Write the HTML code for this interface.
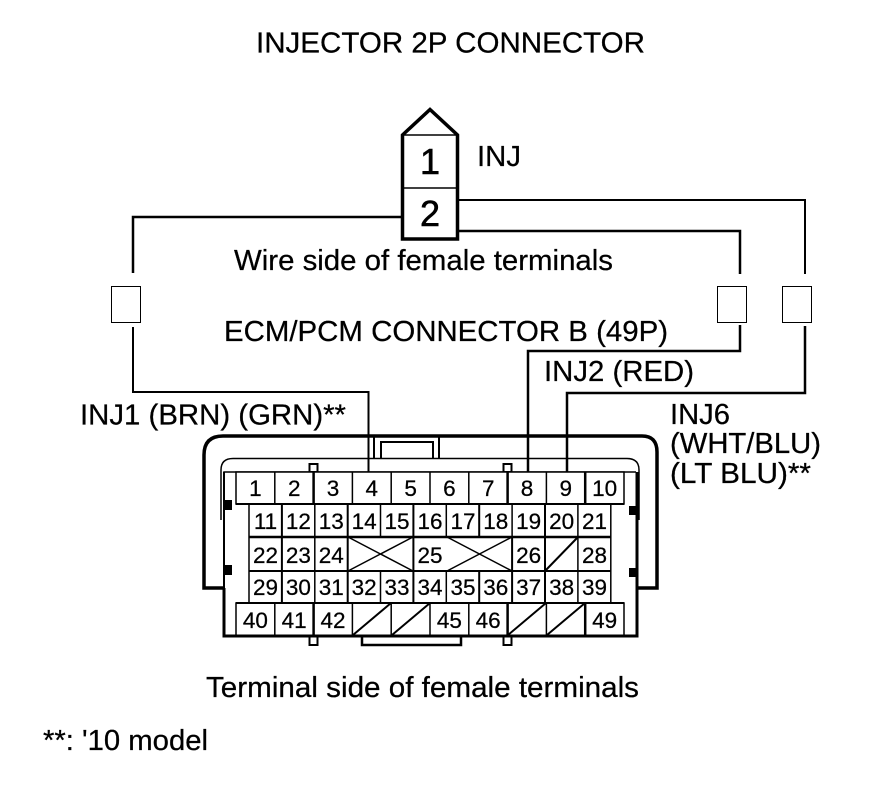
<!DOCTYPE html>
<html>
<head>
<meta charset="utf-8">
<style>
html,body{margin:0;padding:0;background:#fff;}
svg{display:block;}
text{font-family:"Liberation Sans",sans-serif;fill:#000;stroke:#000;stroke-width:0.25px;}
.t{font-size:28.500px;}
.n{font-size:22.500px;text-anchor:middle;}
.b{font-size:36px;text-anchor:middle;stroke-width:0.6px;}
</style>
</head>
<body>
<svg width="880" height="788" viewBox="0 0 880 788" xmlns="http://www.w3.org/2000/svg">
<rect width="880" height="788" fill="#fff"/>

<!-- injector connector -->
<g fill="none" stroke="#000">
<path d="M402.500 135 L430 109.500 L457.500 135 V239 H402.500 Z" stroke-width="3.500"/>
<path d="M402 135 H458" stroke-width="1.500"/>
<path d="M402 188 H458" stroke-width="1.500"/>
<!-- wires -->
<path d="M404 217 H133 V273" stroke-width="2.500"/>
<path d="M133 327 V392 H368.500 V472" stroke-width="2"/>
<path d="M459 200 H805 V274" stroke-width="2"/>
<path d="M459 231 H740 V274" stroke-width="2.500"/>
<path d="M740 325 V351 H528 V472" stroke-width="2.500"/>
<path d="M805 326 V393 H567 V472" stroke-width="2.500"/>
<!-- small rects -->
<rect x="111.500" y="286.500" width="29" height="36" stroke-width="1"/>
<rect x="717.500" y="286.500" width="29" height="36" stroke-width="1"/>
<rect x="782.500" y="286.500" width="29" height="36" stroke-width="1"/>
</g>

<!-- ECM connector shell -->
<g fill="none" stroke="#000">
<path d="M224 588 H204 V455 Q204 436 223 436 H642 Q657 436 657 452 V588 H637" stroke-width="3.500"/>
<path d="M221 520 V470 Q221 458.500 233 458.500 H627 Q639 458.500 639 470 V520" stroke-width="1.500"/>
<path d="M224 520 V472 H636" stroke-width="1.500"/>
<path d="M224 588 V636 H637 V472" stroke-width="3"/>
<path d="M224 472 V588" stroke-width="2"/>
<path d="M374 436 V458" stroke-width="2"/>
<path d="M381 458 V442 H433 V458" stroke-width="2"/>
<path d="M439 436 V458" stroke-width="2"/>
<rect x="309.500" y="464" width="8" height="8" stroke-width="2"/>
<rect x="503.500" y="464" width="8" height="8" stroke-width="2"/>
<rect x="309.500" y="636" width="8" height="9" stroke-width="2"/>
<rect x="503.500" y="636" width="8" height="9" stroke-width="2"/>
<path d="M362 636 V645 H461 V636" stroke-width="2.500"/>
</g>
<g fill="#000">
<rect x="224" y="500" width="8" height="10"/>
<rect x="224" y="565" width="8" height="10"/>
<rect x="629" y="506" width="8" height="9"/>
<rect x="629" y="568" width="8" height="9"/>
</g>

<!-- grid -->
<g fill="none" stroke="#000" stroke-width="1.500">
<rect x="236" y="472" width="388" height="32" fill="#fff"/>
<rect x="236" y="603" width="388" height="33" fill="none"/>
<path d="M274.800 472 V504 M352.400 472 V504 M391.200 472 V504 M430 472 V504 M468.800 472 V504 M546.400 472 V504"/>
<path d="M274.800 603 V636 M352.400 603 V636 M391.200 603 V636 M430 603 V636 M468.800 603 V636 M546.400 603 V636"/>
<path d="M313.600 472 V504 M507.600 472 V504 M585.200 472 V504 M313.600 603 V636 M507.600 603 V636 M585.200 603 V636" stroke-width="2.500"/>
<path d="M249 504 V603 M610.800 504 V603"/>
<path d="M281.900 504 V603 M347.700 504 V603 M413.400 504 V603 M479.200 504 V537 M479.200 571 V603 M512.100 537 V603 M545 504 V603" stroke-width="2"/>
<path d="M314.800 504 V603 M380.500 504 V537 M380.500 571 V603 M446.300 504 V537 M446.300 571 V603 M512.100 504 V537 M577.900 504 V603"/>
<path d="M249 537 H611" stroke-width="2.500"/>
<path d="M249 571 H611" stroke-width="2"/>
<path d="M236 504 H624" stroke-width="2"/>
<path d="M236 603 H624" stroke-width="2"/>
<!-- crosses -->
<path d="M348 537 L413 571 M348 571 L413 537"/>
<path d="M447 537 L512 571 M447 571 L512 537"/>
<path d="M545 571 L578 537" stroke-width="2"/>
<path d="M353 635 L391 603 M392 635 L430 603 M508 635 L546 603 M547 635 L585 603" stroke-width="2"/>
</g>

<!-- cell numbers -->
<g>
<text class="n" x="255.400" y="496">1</text>
<text class="n" x="294.200" y="496">2</text>
<text class="n" x="333" y="496">3</text>
<text class="n" x="371.800" y="496">4</text>
<text class="n" x="410.600" y="496">5</text>
<text class="n" x="449.400" y="496">6</text>
<text class="n" x="488.200" y="496">7</text>
<text class="n" x="527" y="496">8</text>
<text class="n" x="565.800" y="496">9</text>
<text class="n" x="604.600" y="496">10</text>

<text class="n" x="265.500" y="529">11</text>
<text class="n" x="298.400" y="529">12</text>
<text class="n" x="331.300" y="529">13</text>
<text class="n" x="364.200" y="529">14</text>
<text class="n" x="397" y="529">15</text>
<text class="n" x="430" y="529">16</text>
<text class="n" x="463" y="529">17</text>
<text class="n" x="495.800" y="529">18</text>
<text class="n" x="528.700" y="529">19</text>
<text class="n" x="561.600" y="529">20</text>
<text class="n" x="594.500" y="529">21</text>

<text class="n" x="265.500" y="563">22</text>
<text class="n" x="298.400" y="563">23</text>
<text class="n" x="331.300" y="563">24</text>
<text class="n" x="430" y="563">25</text>
<text class="n" x="528.700" y="563">26</text>
<text class="n" x="594.500" y="563">28</text>

<text class="n" x="265.500" y="595">29</text>
<text class="n" x="298.400" y="595">30</text>
<text class="n" x="331.300" y="595">31</text>
<text class="n" x="364.200" y="595">32</text>
<text class="n" x="397" y="595">33</text>
<text class="n" x="430" y="595">34</text>
<text class="n" x="463" y="595">35</text>
<text class="n" x="495.800" y="595">36</text>
<text class="n" x="528.700" y="595">37</text>
<text class="n" x="561.600" y="595">38</text>
<text class="n" x="594.500" y="595">39</text>

<text class="n" x="255.400" y="628">40</text>
<text class="n" x="294.200" y="628">41</text>
<text class="n" x="333" y="628">42</text>
<text class="n" x="449.400" y="628">45</text>
<text class="n" x="488.200" y="628">46</text>
<text class="n" x="604.600" y="628">49</text>
</g>

<!-- big numbers -->
<text class="b" x="430" y="174">1</text>
<text class="b" x="430" y="226">2</text>

<!-- labels -->
<text class="t" x="256" y="52.500" textLength="389" lengthAdjust="spacingAndGlyphs">INJECTOR 2P CONNECTOR</text>
<text class="t" x="477" y="166" textLength="44" lengthAdjust="spacingAndGlyphs">INJ</text>
<text class="t" x="234" y="270" textLength="379" lengthAdjust="spacingAndGlyphs">Wire side of female terminals</text>
<text class="t" x="224" y="341" textLength="444" lengthAdjust="spacingAndGlyphs">ECM/PCM CONNECTOR B (49P)</text>
<text class="t" x="544" y="381" textLength="150" lengthAdjust="spacingAndGlyphs">INJ2 (RED)</text>
<text class="t" x="80" y="424.500" textLength="266" lengthAdjust="spacingAndGlyphs">INJ1 (BRN) (GRN)**</text>
<text class="t" x="670" y="424" textLength="60" lengthAdjust="spacingAndGlyphs">INJ6</text>
<text class="t" x="670" y="453" textLength="151" lengthAdjust="spacingAndGlyphs">(WHT/BLU)</text>
<text class="t" x="670" y="483" textLength="141" lengthAdjust="spacingAndGlyphs">(LT BLU)**</text>
<text class="t" x="206" y="697" textLength="433" lengthAdjust="spacingAndGlyphs">Terminal side of female terminals</text>
<text class="t" x="43" y="750" textLength="165" lengthAdjust="spacingAndGlyphs">**: '10 model</text>
</svg>
</body>
</html>
